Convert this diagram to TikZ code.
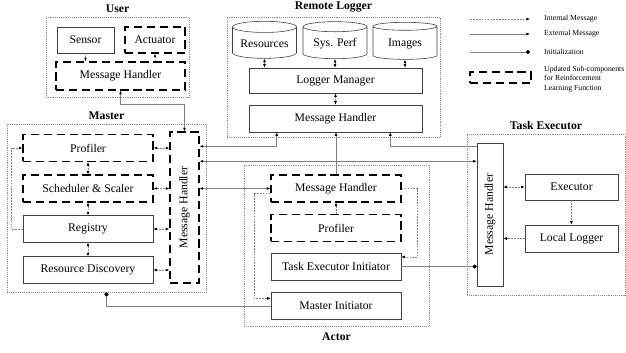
\documentclass[tikz,border=0pt]{standalone}
\usepackage{fontspec}
\setmainfont{Liberation Serif}
\usepackage{graphicx}
\usetikzlibrary{arrows.meta, positioning, calc, shapes.geometric}

\begin{document}
\begin{tikzpicture}[x=0.03cm, y=-0.03cm,
	>={Latex[length=3pt,width=2.4pt,color=black]},
	comp/.style={draw=black!75, line width=0.5pt, minimum width=3.9cm, minimum height=0.8cm, inner sep=1pt, font=\fontsize{10}{12}\selectfont},
	rlcomp/.style={comp, draw=black, line width=1.2pt, dash pattern=on 7pt off 4pt},
	db/.style={cylinder, shape border rotate=90, aspect=0.22, draw=black!75, line width=0.5pt, minimum width=1.92cm, minimum height=1.11cm, inner sep=1pt, font=\fontsize{10}{12}\selectfont},
	group/.style={draw=black!45, densely dotted, line width=0.6pt},
	gtitle/.style={font=\bfseries\fontsize{10}{12}\selectfont},
	intmsg/.style={draw=black!50, dash pattern=on 1.5pt off 1pt, line width=0.5pt},
	extmsg/.style={draw=black!50, line width=0.5pt},
	initdot/.style={extmsg, -{Circle[length=3.5pt,color=black]}},
	legend/.style={font=\fontsize{6.6}{8}\selectfont, align=left, inner sep=0pt}
	]
	\useasboundingbox (0,0) rectangle (626,352);

	% groups
	\node[group, minimum width=4.29cm, minimum height=2.4cm] (user) at (117.5,57) {};
	\node[group, minimum width=6.39cm, minimum height=3.6cm] (logger) at (333.5,77) {};
	\node[group, minimum width=5.97cm, minimum height=5.04cm] (master) at (106.5,208) {};
	\node[group, minimum width=5.55cm, minimum height=4.83cm] (actor) at (336.5,245.5) {};
	\node[group, minimum width=4.74cm, minimum height=4.83cm] (texec) at (546,214.5) {};
	\node[gtitle, above=0pt of user] {User};
	\node[gtitle, above=0pt of logger] {Remote Logger};
	\node[gtitle, above=0pt of master] {Master};
	\node[gtitle, below=2pt of actor] {Actor};
	\node[gtitle, above=0pt of texec] {Task Executor};

	% user
	\node[comp, minimum width=1.71cm, minimum height=0.78cm] (sensor) at (85.5,40) {Sensor};
	\node[rlcomp, minimum width=1.8cm, minimum height=0.78cm] (actuator) at (155,40) {Actuator};
	\node[rlcomp, minimum width=3.87cm, minimum height=0.84cm] (umh) at (120.5,76) {Message Handler};

	% remote logger
	\node[db] (res) at (264.5,43.5) {Resources};
	\node[db] (perf) at (335,43.5) {Sys. Perf};
	\node[db] (img) at (405,43.5) {Images};
	\node[comp, minimum width=5.19cm, minimum height=0.75cm] (lm) at (335.5,80.5) {Logger Manager};
	\node[comp, minimum width=5.19cm, minimum height=0.81cm] (lmh) at (335.5,118.5) {Message Handler};

	% master
	\node[rlcomp] (mprof) at (88,148) {Profiler};
	\node[rlcomp] (sched) at (88,188.5) {Scheduler \& Scaler};
	\node[comp] (reg) at (88,229) {Registry};
	\node[comp] (rd) at (88,270) {Resource Discovery};
	\node[rlcomp, minimum width=0.87cm, minimum height=4.53cm] (mmh) at (184.5,207.5) {\rotatebox{90}{Message Handler}};

	% actor
	\node[rlcomp] (amh) at (336,188.5) {Message Handler};
	\node[rlcomp] (aprof) at (336,228) {Profiler};
	\node[comp] (tei) at (336,266.5) {Task Executor Initiator};
	\node[comp] (mi) at (336,306) {Master Initiator};

	% task executor
	\node[comp, minimum width=0.78cm, minimum height=4.29cm] (tmh) at (490,214.5) {\rotatebox{90}{Message Handler}};
	\node[comp, minimum width=2.79cm, minimum height=0.78cm] (exec) at (571.5,187) {Executor};
	\node[comp, minimum width=2.79cm, minimum height=0.81cm] (llog) at (571.5,238.5) {Local Logger};

	% internal messages
	\draw[intmsg,->] (sensor) -- (sensor |- umh.north);
	\draw[intmsg,->] (actuator |- umh.north) -- (actuator);
	\foreach \n in {res,perf,img}
		\draw[intmsg,<->] (\n) -- (\n |- lm.north);
	\draw[intmsg,<->] (lm) -- (lmh);
	\draw[intmsg,<->] (mprof) -- (sched);
	\draw[intmsg,<->] (sched) -- (reg);
	\draw[intmsg,<->] (reg) -- (rd);
	\foreach \n in {mprof,sched,reg,rd}
		\draw[intmsg,<->] (\n) -- (\n -| mmh.west);
	\draw[intmsg,->] (reg.west) -- ++(-11,0) |- (mprof.west);
	\draw[intmsg,->] (aprof) -- (amh);
	\draw[intmsg,->] (amh.east) -- ++(16,0) |- ($(tei.north east)+(0,4)$);
	\draw[intmsg,->] ($(amh.south west)+(0,-9)$) -- ++(-16,0) |- ($(mi.north west)+(0,6)$);
	\draw[intmsg,<->] (exec.west -| tmh.east) -- (exec.west);
	\draw[intmsg,->] (exec) -- (llog);
	\draw[intmsg,->] (llog.west) -- (llog.west -| tmh.east);

	% external messages
	\coordinate (m1) at ($(mmh.north east)+(0,15)$);
	\coordinate (m2) at ($(mmh.north east)+(0,30)$);
	\coordinate (l1) at ($(lmh.south west)+(28,0)$);
	\coordinate (l2) at ($(lmh.south east)+(-32,0)$);
	\draw[extmsg,<->] (umh.south) -- ++(0,14) -| (mmh.north);
	\draw[extmsg,<->] (m1) -| (l1);
	\draw[extmsg,<->] (m2) -- (m2 -| tmh.west);
	\draw[extmsg,->] (tmh.west |- m1) -| (l2);
	\draw[extmsg,->] (amh.north) -- (amh.north |- lmh.south);
	\draw[extmsg,<->] (amh.west -| mmh.east) -- (amh.west);

	% initialization
	\draw[initdot] (mi.west) -| (master.south);
	\draw[initdot] (tei.east) -- (tei.east -| tmh.west);

	% legend
	\node[legend, anchor=west] (lgint) at (544,19) {Internal Message};
	\node[legend, anchor=west] (lgext) at (544,34) {External Message};
	\node[legend, anchor=west] (lginit) at (544,52) {Initialization};
	\node[legend, anchor=west] (lgrl) at (544,79) {Updated Sub-components\\for Reinforcement\\Learning Function};
	\coordinate (g1) at (470,19);
	\coordinate (g2) at (470,34);
	\coordinate (g3) at (470,52);
	\draw[intmsg,->] (g1) -- ($(lgint.west)+(-14,0)$);
	\draw[extmsg,->] (g2) -- ($(lgext.west)+(-14,0)$);
	\draw[initdot] (g3) -- ($(lginit.west)+(-14,0)$);
	\node[rlcomp, minimum width=1.83cm, minimum height=0.33cm] (rlbox) at (500.5,77.5) {};
\end{tikzpicture}
\end{document}
